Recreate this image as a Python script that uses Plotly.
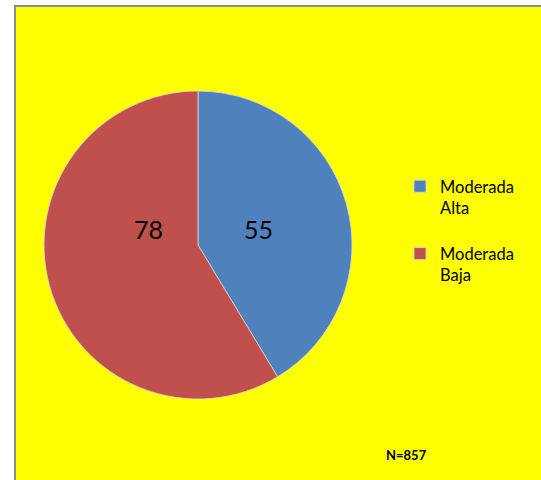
import plotly.graph_objects as go

categories = ["Moderada<br>Alta<br> ", "Moderada<br>Baja"]
values = [55, 78]
colors = ["#4F81BD", "#C0504D"]
sample_note = "N=857"

W, H = 541, 480
FONT = "Lato, Noto Sans, sans-serif"

fig = go.Figure(
    go.Pie(
        labels=categories,
        values=values,
        sort=False,
        direction="clockwise",
        rotation=0,
        marker=dict(colors=colors, line=dict(color="#D9D9D9", width=0.8)),
        textinfo="none",
        hoverinfo="value",
        domain=dict(x=[44 / W, 352 / W], y=[81 / H, 389 / H]),
    )
)

# Value labels placed inside each slice
label_pos = [(258 / W, 1 - 229 / H), (148 / W, 1 - 229 / H)]
for v, (lx, ly) in zip(values, label_pos):
    fig.add_annotation(
        text=str(v), xref="paper", yref="paper", x=lx, y=ly,
        xanchor="center", yanchor="middle", showarrow=False,
        font=dict(family=FONT, size=25, color="black"),
    )

# Yellow chart area with a thin grey frame on its left and top edges
fig.add_shape(
    type="rect", xref="paper", yref="paper",
    x0=15 / W, x1=1.02, y0=-0.02, y1=1 - 6 / H,
    fillcolor="#FFFF00", line=dict(color="#8C8C8C", width=2), layer="below",
)

fig.add_annotation(
    text="<b>" + sample_note + "</b>",
    xref="paper", yref="paper", x=384 / W, y=1 - 455 / H,
    xanchor="left", yanchor="middle", showarrow=False,
    font=dict(family=FONT, size=13, color="black"),
)

fig.update_layout(
    width=W, height=H,
    margin=dict(l=0, r=0, t=0, b=0),
    paper_bgcolor="white",
    plot_bgcolor="white",
    showlegend=True,
    legend=dict(
        x=400 / W, y=1 - 169 / H, xanchor="left", yanchor="top",
        bgcolor="rgba(0,0,0,0)",
        font=dict(family=FONT, size=16.5, color="black"),
        itemwidth=30,
        valign="top",
    ),
)

fig.write_html("out.html")
